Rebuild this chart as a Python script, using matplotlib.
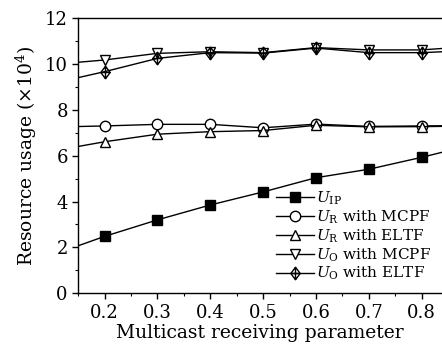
import matplotlib
matplotlib.use("Agg")
import matplotlib.pyplot as plt
from matplotlib.path import Path
from matplotlib.ticker import MultipleLocator

x = [0.1, 0.2, 0.3, 0.4, 0.5, 0.6, 0.7, 0.8, 0.9]
u_ip = [1.66, 2.48, 3.20, 3.85, 4.42, 5.04, 5.41, 5.93, 6.50]
u_r_mcpf = [7.25, 7.30, 7.37, 7.37, 7.22, 7.38, 7.28, 7.30, 7.32]
u_r_eltf = [6.20, 6.61, 6.94, 7.05, 7.10, 7.33, 7.26, 7.27, 7.30]
u_o_mcpf = [9.98, 10.18, 10.47, 10.54, 10.50, 10.72, 10.62, 10.62, 10.78]
u_o_eltf = [9.15, 9.67, 10.25, 10.50, 10.48, 10.70, 10.50, 10.50, 10.60]
labels = [r"$U_{\rm IP}$", r"$U_{\rm R}$ with MCPF", r"$U_{\rm R}$ with ELTF",
          r"$U_{\rm O}$ with MCPF", r"$U_{\rm O}$ with ELTF"]
xticks = [0.2, 0.3, 0.4, 0.5, 0.6, 0.7, 0.8]
yticks = [0, 2, 4, 6, 8, 10, 12]

plt.rcParams["font.family"] = ["DejaVu Serif"]
plt.rcParams["mathtext.fontset"] = "dejavuserif"

diamond_plus = Path(
    [(0, 1.2), (0.9, 0), (0, -1.2), (-0.9, 0), (0, 1.2),
     (0, 1.2), (0, -1.2), (-0.9, 0), (0.9, 0)],
    [Path.MOVETO, Path.LINETO, Path.LINETO, Path.LINETO, Path.CLOSEPOLY,
     Path.MOVETO, Path.LINETO, Path.MOVETO, Path.LINETO])

fig = plt.figure(figsize=(4.42, 3.49), dpi=100)
ax = fig.add_axes([0.177, 0.16, 0.823, 0.7876])

common = dict(color="black", lw=1.0, ms=7.5, mew=1.0)
ax.plot(x, u_ip, marker="s", mfc="black", label=labels[0], **common)
ax.plot(x, u_r_mcpf, marker="o", mfc="white", label=labels[1], **common)
ax.plot(x, u_r_eltf, marker="^", mfc="white", label=labels[2], **common)
ax.plot(x, u_o_mcpf, marker="v", mfc="white", label=labels[3], **common)
ax.plot(x, u_o_eltf, marker=diamond_plus, mfc="none", ms=9, color="black", lw=1.0, mew=1.0, label=labels[4])

ax.set_xlim(0.15, 0.8385)
ax.set_ylim(0, 12)
ax.set_xticks(xticks)
ax.set_xticklabels([f"{v:.1f}" for v in xticks])
ax.set_yticks(yticks)
ax.xaxis.set_minor_locator(MultipleLocator(0.05))
ax.yaxis.set_minor_locator(MultipleLocator(1))
ax.tick_params(which="major", direction="out", length=4, width=1, labelsize=13)
ax.tick_params(which="minor", direction="out", length=2.5, width=0.8)
ax.spines["right"].set_visible(False)
for s in ["left", "bottom", "top"]:
    ax.spines[s].set_linewidth(1.0)

ax.set_xlabel("Multicast receiving parameter", fontsize=13.5, labelpad=2)
ax.set_ylabel(r"Resource usage ($\times10^4$)", fontsize=13.5, labelpad=4)

ax.legend(loc="lower right", bbox_to_anchor=(1.0, 0.0), frameon=False,
          fontsize=11, handlelength=2.5, handletextpad=0.15, labelspacing=0.1,
          borderaxespad=0.3)

fig.savefig("out.png", dpi=100)
